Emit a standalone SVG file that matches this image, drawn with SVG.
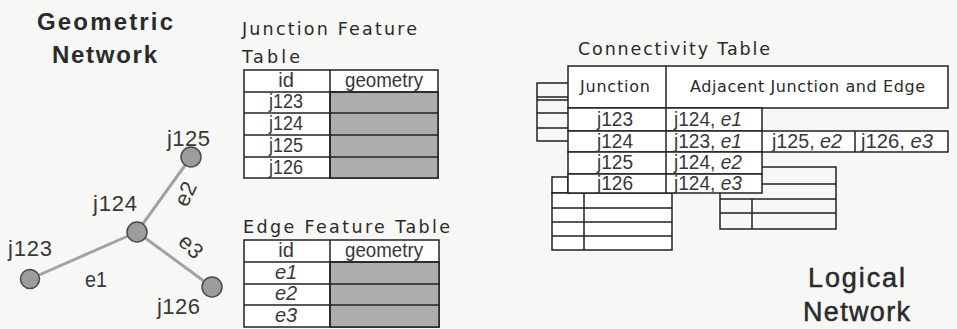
<svg xmlns="http://www.w3.org/2000/svg" width="957" height="329" viewBox="0 0 957 329">
  <style>
    .bg { fill: #f7f7f5; }
    .title { font-family: "Liberation Sans", Arial, sans-serif; font-size: 24px; font-weight: bold; fill: #2a2a2a; }
    .title2 { font-family: "Liberation Sans", Arial, sans-serif; font-size: 27px; fill: #2a2a2a; stroke: #2a2a2a; stroke-width: 0.5; }
    .cap { font-family: "DejaVu Sans", "Liberation Sans", sans-serif; font-size: 17.5px; fill: #2a2a2a; }
    .lbl { font-family: "Liberation Sans", Arial, sans-serif; font-size: 22px; fill: #383838; }
    .cell { font-family: "Liberation Sans", Arial, sans-serif; font-size: 20px; fill: #383838; }
    .hdr { font-family: "DejaVu Sans", "Liberation Sans", sans-serif; font-size: 16px; fill: #2a2a2a; }
    .it { font-style: italic; }
    .mid { text-anchor: middle; }
    .box { fill: #ffffff; stroke: #222; stroke-width: 1.5; }
    .geo { fill: #adadad; stroke: #222; stroke-width: 1.5; }
    .ln { stroke: #222; stroke-width: 1.5; fill: none; }
    .edge { stroke: #a3a3a3; stroke-width: 3; stroke-linecap: round; }
    .node { fill: #9c9c9c; stroke: #4a4a4a; stroke-width: 1.5; }
  </style>

  <rect class="bg" x="0" y="0" width="957" height="329"/>

  <!-- Geometric network -->
  <text class="title" x="37" y="30" textLength="136" lengthAdjust="spacing">Geometric</text>
  <text class="title" x="52" y="63" textLength="105" lengthAdjust="spacing">Network</text>

  <g id="connectors">
    <line id="e1" class="edge" x1="30" y1="279" x2="137" y2="232"/>
    <line id="e2" class="edge" x1="137" y1="232" x2="191" y2="157"/>
    <line id="e3" class="edge" x1="137" y1="232" x2="212" y2="287"/>
    <text class="lbl" x="85" y="287" textLength="22" lengthAdjust="spacingAndGlyphs">e1</text>
    <text class="lbl" transform="translate(187,208) rotate(-65)">e2</text>
    <text class="lbl" transform="translate(177,243) rotate(45)">e3</text>
  </g>

  <g id="j123">
    <circle class="node" cx="30" cy="279" r="9.5"/>
    <text class="lbl" x="8" y="256" textLength="44" lengthAdjust="spacing">j123</text>
  </g>
  <g id="j124">
    <circle class="node" cx="137" cy="232" r="10"/>
    <text class="lbl" x="93" y="211" textLength="44" lengthAdjust="spacing">j124</text>
  </g>
  <g id="j125">
    <circle class="node" cx="191" cy="157" r="10"/>
    <text class="lbl" x="167" y="146" textLength="43" lengthAdjust="spacing">j125</text>
  </g>
  <g id="j126">
    <circle class="node" cx="212" cy="287" r="10"/>
    <text class="lbl" x="157" y="314" textLength="43" lengthAdjust="spacing">j126</text>
  </g>

  <!-- Junction feature table -->
  <g id="junction-feature-table">
    <text class="cap" x="242" y="35" textLength="175" lengthAdjust="spacing">Junction Feature</text>
    <text class="cap" x="242" y="63" textLength="58" lengthAdjust="spacing">Table</text>
    <rect class="box" x="244" y="70" width="194" height="108"/>
    <rect class="geo" x="330" y="92" width="108" height="86"/>
    <line class="ln" x1="330" y1="70" x2="330" y2="178"/>
    <line class="ln" x1="244" y1="92" x2="438" y2="92"/>
    <line class="ln" x1="244" y1="113" x2="438" y2="113"/>
    <line class="ln" x1="244" y1="135" x2="438" y2="135"/>
    <line class="ln" x1="244" y1="157" x2="438" y2="157"/>
    <text class="cell mid" x="286" y="87">id</text>
    <text class="cell mid" x="384" y="87" textLength="78" lengthAdjust="spacingAndGlyphs">geometry</text>
    <text class="cell mid" x="286" y="108" textLength="34" lengthAdjust="spacingAndGlyphs">j123</text>
    <text class="cell mid" x="286" y="130" textLength="34" lengthAdjust="spacingAndGlyphs">j124</text>
    <text class="cell mid" x="286" y="152" textLength="34" lengthAdjust="spacingAndGlyphs">j125</text>
    <text class="cell mid" x="286" y="174" textLength="34" lengthAdjust="spacingAndGlyphs">j126</text>
  </g>

  <!-- Edge feature table -->
  <g id="edge-feature-table">
    <text class="cap" x="243" y="233" textLength="207" lengthAdjust="spacing">Edge Feature Table</text>
    <rect class="box" x="244" y="240" width="195" height="87"/>
    <rect class="geo" x="330" y="262" width="109" height="65"/>
    <line class="ln" x1="330" y1="240" x2="330" y2="327"/>
    <line class="ln" x1="244" y1="262" x2="439" y2="262"/>
    <line class="ln" x1="244" y1="284" x2="439" y2="284"/>
    <line class="ln" x1="244" y1="305" x2="439" y2="305"/>
    <text class="cell mid" x="286" y="257">id</text>
    <text class="cell mid" x="384" y="257" textLength="78" lengthAdjust="spacingAndGlyphs">geometry</text>
    <text class="cell mid it" x="286" y="279">e1</text>
    <text class="cell mid it" x="286" y="300">e2</text>
    <text class="cell mid it" x="286" y="322">e3</text>
  </g>

  <!-- Connectivity table with stacked tables behind it -->
  <g id="connectivity-table">
    <text class="cap" x="578" y="55" textLength="192" lengthAdjust="spacing">Connectivity Table</text>

    <!-- stacked tables behind -->
    <path class="ln" d="M568 83 H537 V141 H568 M537 97 H568 M537 100 H568 M537 113 H568 M537 128 H568"/>
    <rect class="box" x="552" y="177" width="16" height="16"/>
    <rect class="box" x="552" y="193" width="120" height="57"/>
    <path class="ln" d="M552 208 H672 M552 222 H672 M552 236 H672 M584 193 V250"/>
    <path class="ln" d="M762 167 H836 V229 H720 V193 M720 199 H836 M720 213 H836 M752 199 V229"/>
    <line class="ln" x1="762" y1="184" x2="836" y2="184" stroke-width="2.5"/>

    <!-- header -->
    <rect class="box" x="568" y="66" width="380" height="42"/>
    <line class="ln" x1="666" y1="66" x2="666" y2="108"/>
    <text class="hdr" x="580" y="92" textLength="70" lengthAdjust="spacing">Junction</text>
    <text class="hdr" x="690" y="92" textLength="235" lengthAdjust="spacing">Adjacent Junction and Edge</text>

    <!-- rows -->
    <rect class="box" x="568" y="108" width="194" height="23"/>
    <rect class="box" x="568" y="131" width="380" height="21"/>
    <rect class="box" x="568" y="152" width="194" height="22"/>
    <rect class="box" x="568" y="174" width="194" height="19"/>
    <line class="ln" x1="666" y1="108" x2="666" y2="193"/>
    <line class="ln" x1="762" y1="131" x2="762" y2="152"/>
    <line class="ln" x1="855" y1="131" x2="855" y2="152"/>

    <text class="cell mid" x="615" y="126" textLength="36" lengthAdjust="spacingAndGlyphs">j123</text>
    <text class="cell mid" x="615" y="148" textLength="36" lengthAdjust="spacingAndGlyphs">j124</text>
    <text class="cell mid" x="615" y="169" textLength="36" lengthAdjust="spacingAndGlyphs">j125</text>
    <text class="cell mid" x="615" y="190" textLength="36" lengthAdjust="spacingAndGlyphs">j126</text>

    <text class="cell" x="674" y="126" textLength="68" lengthAdjust="spacingAndGlyphs">j124, <tspan class="it">e1</tspan></text>
    <text class="cell" x="674" y="148" textLength="68" lengthAdjust="spacingAndGlyphs">j123, <tspan class="it">e1</tspan></text>
    <text class="cell" x="772" y="148" textLength="70" lengthAdjust="spacingAndGlyphs">j125, <tspan class="it">e2</tspan></text>
    <text class="cell" x="861" y="148" textLength="72" lengthAdjust="spacingAndGlyphs">j126, <tspan class="it">e3</tspan></text>
    <text class="cell" x="674" y="169" textLength="68" lengthAdjust="spacingAndGlyphs">j124, <tspan class="it">e2</tspan></text>
    <text class="cell" x="674" y="190" textLength="68" lengthAdjust="spacingAndGlyphs">j124, <tspan class="it">e3</tspan></text>
  </g>

  <!-- Logical network -->
  <text class="title2" x="808" y="287" textLength="97" lengthAdjust="spacing">Logical</text>
  <text class="title2" x="803" y="321" textLength="107" lengthAdjust="spacing">Network</text>
</svg>
